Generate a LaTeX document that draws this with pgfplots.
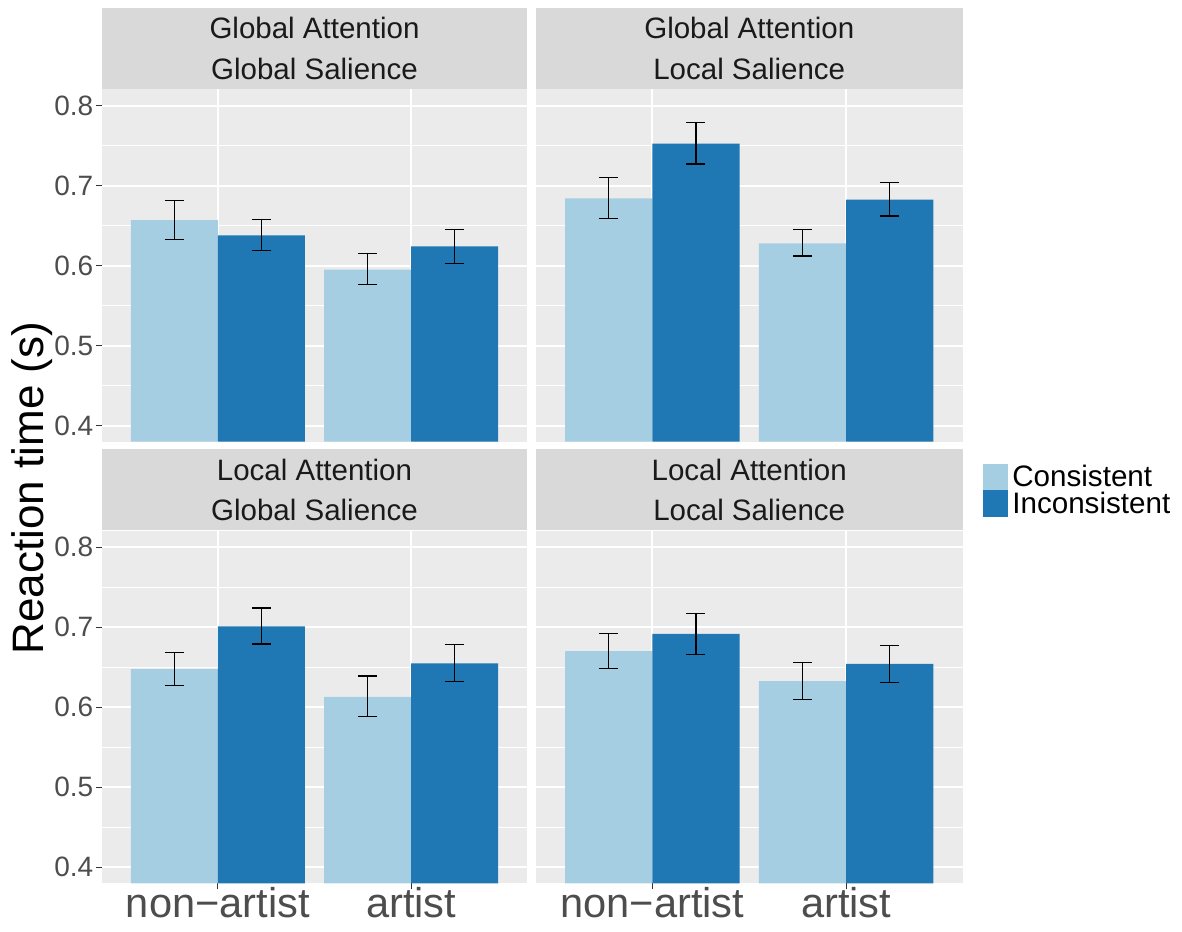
\documentclass[border=0pt]{standalone}
\usepackage{fontspec}
\setmainfont{Liberation Sans}
\usepackage{pgfplots}
\usepackage{pgfplotstable}
\pgfplotsset{compat=1.18}

\definecolor{cLight}{HTML}{A6CEE3}
\definecolor{cDark}{HTML}{1F78B4}
\definecolor{panelbg}{HTML}{EBEBEB}
\definecolor{stripbg}{HTML}{D9D9D9}
\definecolor{striptext}{HTML}{1A1A1A}
\definecolor{ticklab}{HTML}{4D4D4D}
\definecolor{tickcol}{HTML}{333333}

% xc / xi: dodged positions of the Consistent / Inconsistent bars
\pgfplotstableread{
xc xi c cp cm i ip im
0.775 1.225 0.657 0.024 0.024 0.638 0.020 0.019
1.775 2.225 0.595 0.020 0.019 0.624 0.021 0.021
}\dataGAGS
\pgfplotstableread{
xc xi c cp cm i ip im
0.775 1.225 0.684 0.026 0.025 0.7525 0.0265 0.0255
1.775 2.225 0.628 0.0175 0.016 0.6825 0.0215 0.0205
}\dataGALS
\pgfplotstableread{
xc xi c cp cm i ip im
0.775 1.225 0.6475 0.0205 0.0205 0.701 0.023 0.022
1.775 2.225 0.613 0.026 0.025 0.6546 0.0234 0.0221
}\dataLAGS
\pgfplotstableread{
xc xi c cp cm i ip im
0.775 1.225 0.670 0.0217 0.022 0.6917 0.0258 0.0257
1.775 2.225 0.6325 0.0235 0.0225 0.654 0.023 0.023
}\dataLALS

\pgfplotsset{
  panel/.style={
    scale only axis, anchor=south west,
    xmin=0.4, xmax=2.6, ymin=0.38, ymax=0.8205,
    axis background/.style={fill=panelbg},
    axis line style={draw=none},
    xtick={1,2}, ytick={0.4,0.5,0.6,0.7,0.8},
    minor ytick={0.45,0.55,0.65,0.75},
    xmajorgrids, ymajorgrids, yminorgrids,
    major grid style={white, line width=1.1pt},
    minor grid style={white, line width=0.55pt},
    tick align=outside, major tick length=3pt, minor tick length=0pt,
    tick style={color=tickcol, line width=0.55pt},
    xtick pos=bottom, ytick pos=left,
    xticklabels={}, yticklabels={},
    yticklabel style={font=\fontsize{14}{16}\selectfont, text=ticklab, anchor=east, inner sep=0pt, xshift=-1.2pt},
    xticklabel style={font=\fontsize{20.8}{24}\selectfont, text=ticklab, anchor=base, inner sep=0pt, yshift=-14pt},
    every axis title/.style={at={(0.5,1)}, anchor=south, fill=stripbg, text=striptext,
      inner sep=0pt, minimum height=40.4pt, align=center,
      font=\fontsize{14.75}{20.35}\selectfont},
  },
  barbase/.style={ybar, bar width=0.45, bar shift=0, draw=none,
    error bars/.cd, y dir=both, y explicit,
    error bar style={draw=black, line width=0.6pt},
    error mark=-,
    error mark options={rotate=90, draw=black, mark size=4.75pt, line width=0.6pt},
    /pgfplots/.cd},
  lightbar/.style={barbase, fill=cLight},
  darkbar/.style={barbase, fill=cDark},
}

\begin{document}
\begin{tikzpicture}
\path[use as bounding box] (0pt,0pt) rectangle (591pt,465.5pt);

% top-left
\begin{axis}[panel, at={(51pt,244.65pt)}, width=212.5pt, height=176.2pt,
  xtick style={draw=none},
  yticklabels={0.4,0.5,0.6,0.7,0.8},
  title style={minimum width=212.5pt},
  title={Global Attention\\Global Salience}]
\addplot[lightbar] table[x=xc, y=c, y error plus=cp, y error minus=cm] {\dataGAGS};
\addplot[darkbar] table[x=xi, y=i, y error plus=ip, y error minus=im] {\dataGAGS};
\end{axis}

% top-right
\begin{axis}[panel, at={(268pt,244.65pt)}, width=213.25pt, height=176.2pt,
  xtick style={draw=none}, ytick style={draw=none},
  title style={minimum width=213.25pt},
  title={Global Attention\\Local Salience}]
\addplot[lightbar] table[x=xc, y=c, y error plus=cp, y error minus=cm] {\dataGALS};
\addplot[darkbar] table[x=xi, y=i, y error plus=ip, y error minus=im] {\dataGALS};
\end{axis}

% bottom-left
\begin{axis}[panel, at={(51pt,23.85pt)}, width=212.5pt, height=176.3pt,
  yticklabels={0.4,0.5,0.6,0.7,0.8},
  xticklabels={non−artist,artist},
  title style={minimum width=212.5pt},
  title={Local Attention\\Global Salience}]
\addplot[lightbar] table[x=xc, y=c, y error plus=cp, y error minus=cm] {\dataLAGS};
\addplot[darkbar] table[x=xi, y=i, y error plus=ip, y error minus=im] {\dataLAGS};
\end{axis}

% bottom-right
\begin{axis}[panel, at={(268pt,23.85pt)}, width=213.25pt, height=176.3pt,
  ytick style={draw=none},
  xticklabels={non−artist,artist},
  title style={minimum width=213.25pt},
  title={Local Attention\\Local Salience},
  legend style={at={(1.0488,1.1892)}, anchor=north west, draw=none, fill=none,
    inner sep=0pt, outer sep=0pt, row sep=0pt, column sep=2.4pt,
    font=\fontsize{14.8}{16}\selectfont,
    nodes={inner sep=0pt, text height=11.2pt, text depth=1.55pt}},
  legend cell align=left]
\addplot[forget plot, lightbar] table[x=xc, y=c, y error plus=cp, y error minus=cm] {\dataLALS};
\addplot[forget plot, darkbar] table[x=xi, y=i, y error plus=ip, y error minus=im] {\dataLALS};
\addlegendimage{legend image code/.code={\fill[cLight] (0pt,-6.375pt) rectangle (11.7pt,6.375pt);}}
\addlegendentry{Consistent}
\addlegendimage{legend image code/.code={\fill[cDark] (0pt,-6.375pt) rectangle (11.7pt,6.375pt);}}
\addlegendentry{Inconsistent}
\end{axis}

\node[rotate=90, anchor=base, font=\fontsize{22}{26}\selectfont] at (21.5pt,221.5pt) {Reaction time (s)};
\end{tikzpicture}
\end{document}
